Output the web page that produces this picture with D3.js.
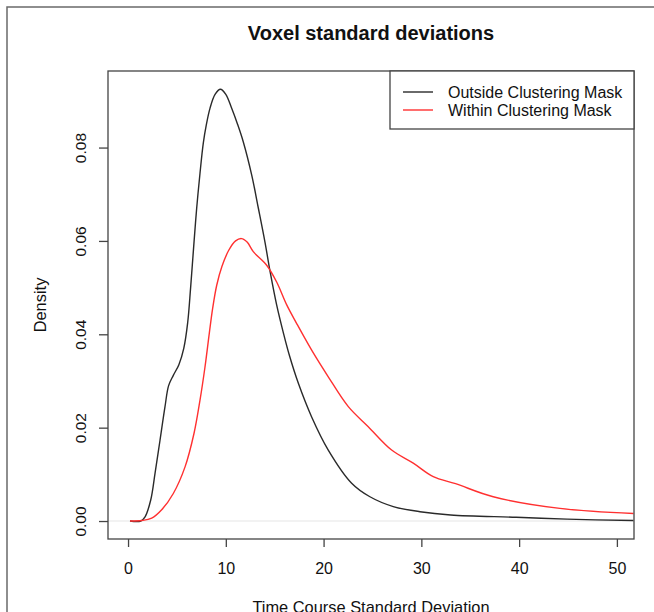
<!DOCTYPE html>
<html>
<head>
<meta charset="utf-8">
<script src="https://cdn.jsdelivr.net/npm/d3@7"></script>
<style>
  html, body { margin: 0; padding: 0; background: #fff; }
  svg { display: block; }
  text { font-family: "Liberation Sans", Arial, Helvetica, sans-serif; fill: #111; }
</style>
</head>
<body>
<svg id="chart" width="654" height="612"></svg>
<script>
// ---- data ----
const title = "Voxel standard deviations";
const xLabel = "Time Course Standard Deviation";
const yLabel = "Density";
const seriesNames = ["Outside Clustering Mask", "Within Clustering Mask"];
const seriesColors = ["#2a2a2a", "#ff3030"];

const xTicks = [0, 10, 20, 30, 40, 50];
const yTicks = [0.00, 0.02, 0.04, 0.06, 0.08];
const yTickLabels = ["0.00", "0.02", "0.04", "0.06", "0.08"];

const outsideX = [0.2, 1.3, 1.74, 2.32, 2.76, 3.27, 3.78, 4.15, 4.63, 5.2, 5.7, 6.1, 6.4, 6.75, 7.02, 7.36, 7.7, 8.0, 8.38, 8.9, 9.45, 10.0, 10.6, 11.2, 11.79, 12.65, 13.33, 14.0, 14.55, 15.2, 15.9, 16.5, 17.42, 18.78, 20.48, 22.87, 24.74, 27.13, 29.86, 33.0, 39.7, 44.9, 51.7];
const outsideY = [0, 0, 0.0009, 0.0045, 0.0102, 0.0173, 0.0245, 0.0290, 0.0312, 0.0335, 0.0370, 0.0425, 0.0500, 0.0598, 0.0670, 0.0745, 0.0810, 0.0848, 0.0884, 0.0914, 0.0925, 0.0914, 0.0884, 0.0850, 0.0812, 0.0741, 0.0670, 0.0598, 0.0532, 0.0463, 0.0402, 0.0355, 0.0295, 0.0223, 0.0152, 0.0081, 0.0052, 0.0031, 0.0020, 0.0013, 0.0008, 0.0004, 0.0001];

const withinX = [0.2, 1.4, 2.42, 3.44, 4.63, 5.83, 6.75, 7.36, 7.87, 8.31, 8.65, 9.07, 9.6, 10.3, 11.0, 11.6, 12.2, 12.81, 14.18, 15.2, 16.23, 17.25, 18.78, 20.48, 22.53, 24.57, 26.96, 29.17, 31.22, 33.5, 37.35, 44.17, 51.7];
const withinY = [0, 0.0001, 0.0006, 0.0024, 0.0059, 0.0116, 0.0188, 0.0259, 0.0330, 0.0402, 0.0455, 0.0505, 0.0545, 0.0580, 0.0600, 0.0605, 0.0597, 0.0577, 0.0548, 0.0512, 0.0463, 0.0423, 0.0366, 0.0309, 0.0245, 0.0202, 0.0152, 0.0124, 0.0095, 0.0080, 0.0052, 0.0027, 0.0016];

// ---- layout ----
const svg = d3.select("#chart");
const plot = { left: 108, right: 634, top: 71, bottom: 539 };

const x = d3.scaleLinear().domain([-2.05, 51.75]).range([plot.left, plot.right]);
const y = d3.scaleLinear().domain([-0.00385, 0.0964]).range([plot.bottom, plot.top]);

// outer frame
svg.append("rect")
  .attr("x", 7).attr("y", 7).attr("width", 700).attr("height", 700)
  .attr("fill", "none").attr("stroke", "#6a6a6a").attr("stroke-width", 1.5);

// title
svg.append("text")
  .attr("x", (plot.left + plot.right) / 2).attr("y", 40)
  .attr("text-anchor", "middle")
  .style("font-size", "20px").style("font-weight", "bold")
  .text(title);

// faint zero line
svg.append("line")
  .attr("x1", plot.left).attr("x2", plot.right)
  .attr("y1", y(0)).attr("y2", y(0))
  .attr("stroke", "#eeeeee").attr("stroke-width", 1.5);

// curves
const line = d3.line()
  .x(d => x(d[0])).y(d => y(d[1]))
  .curve(d3.curveCatmullRom.alpha(0.5));

const series = [
  d3.zip(outsideX, outsideY),
  d3.zip(withinX, withinY)
];
series.forEach((s, i) => {
  svg.append("path")
    .datum(s)
    .attr("d", line)
    .attr("fill", "none")
    .attr("stroke", seriesColors[i])
    .attr("stroke-width", 1.4);
});

// plot box
svg.append("rect")
  .attr("x", plot.left).attr("y", plot.top)
  .attr("width", plot.right - plot.left).attr("height", plot.bottom - plot.top)
  .attr("fill", "none").attr("stroke", "#444").attr("stroke-width", 1.3);

// x axis
const xAxis = d3.axisBottom(x).tickValues(xTicks).tickSize(8).tickPadding(10).tickFormat(d3.format("d"));
const gx = svg.append("g").attr("transform", `translate(0,${plot.bottom})`).call(xAxis);
gx.select(".domain").remove();
gx.selectAll(".tick line").attr("stroke", "#444").attr("stroke-width", 1.3);
gx.selectAll(".tick text")
  .attr("y", 35).attr("dy", null)
  .style("font-size", "16px").style("font-family", "\"Liberation Sans\", Arial, sans-serif").attr("fill", "#111");

// y axis
const yAxis = d3.axisLeft(y).tickValues(yTicks).tickSize(9).tickFormat((d, i) => yTickLabels[i]);
const gy = svg.append("g").attr("transform", `translate(${plot.left},0)`).call(yAxis);
gy.select(".domain").remove();
gy.selectAll(".tick line").attr("stroke", "#444").attr("stroke-width", 1.3);
gy.selectAll(".tick text")
  .attr("x", null).attr("dy", null)
  .attr("text-anchor", "middle")
  .attr("transform", "translate(-22,0) rotate(-90)")
  .style("font-size", "15.5px").style("font-family", "\"Liberation Sans\", Arial, sans-serif").attr("fill", "#111");

// axis labels
svg.append("text")
  .attr("x", (plot.left + plot.right) / 2).attr("y", 613)
  .attr("text-anchor", "middle")
  .style("font-size", "16.4px")
  .text(xLabel);

svg.append("text")
  .attr("transform", `translate(46,${(plot.top + plot.bottom) / 2}) rotate(-90)`)
  .attr("text-anchor", "middle")
  .style("font-size", "16.4px")
  .text(yLabel);

// legend
const leg = { left: 390, top: plot.top, right: plot.right, bottom: 129 };
svg.append("rect")
  .attr("x", leg.left).attr("y", leg.top)
  .attr("width", leg.right - leg.left).attr("height", leg.bottom - leg.top)
  .attr("fill", "#fff").attr("stroke", "#444").attr("stroke-width", 1.3);
seriesNames.forEach((name, i) => {
  const yy = 92 + i * 18;
  svg.append("line")
    .attr("x1", 403).attr("x2", 433).attr("y1", yy).attr("y2", yy)
    .attr("stroke", seriesColors[i]).attr("stroke-width", 1.4);
  svg.append("text")
    .attr("x", 448).attr("y", yy + 5.5)
    .style("font-size", "16px")
    .text(name);
});
</script>
</body>
</html>
